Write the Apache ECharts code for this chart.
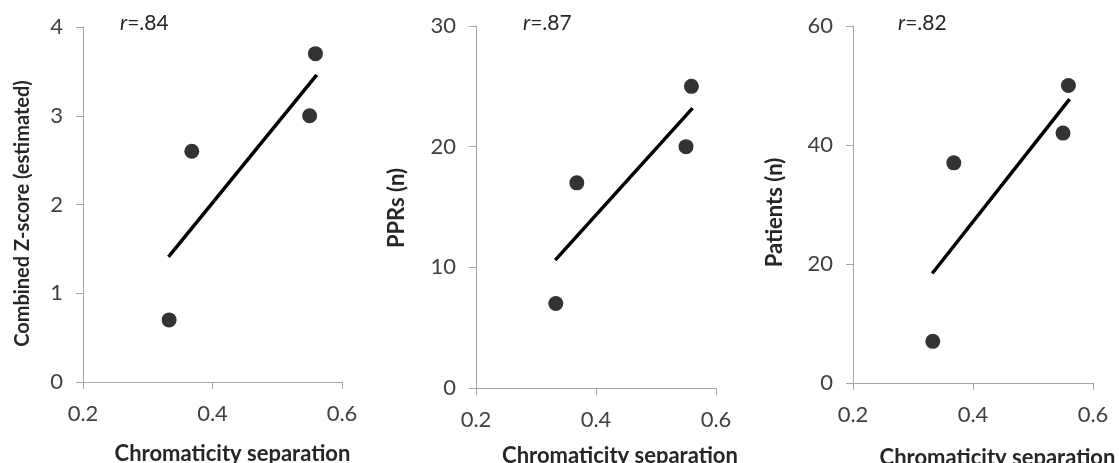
<!DOCTYPE html>
<html><head><meta charset="utf-8">
<script src="https://cdn.jsdelivr.net/npm/echarts@6/dist/echarts.min.js"></script>
<style>html,body{margin:0;padding:0;background:#fff}#c{width:1119px;height:463px}</style>
</head><body><div id="c"></div>
<script>
// Data
const chromaticity = [0.333, 0.368, 0.550, 0.559];
const zScore = [0.7, 2.6, 3.0, 3.7];
const pprs = [7, 17, 20, 25];
const patients = [7, 37, 42, 50];
// Trend lines (endpoints)
const trendX = [0.332, 0.561];
const zTrend = [1.41, 3.46];
const pprTrend = [10.6, 23.2];
const patTrend = [18.4, 47.7];
const rLabels = ['.84', '.87', '.82'];
const yNames = ['Combined Z-score (estimated)', 'PPRs (n)', 'Patients (n)'];
const xName = 'Chromaticity separation';
const yMax = [4, 30, 60];
const yInterval = [1, 10, 20];

const FONT = 'Lato';
const grids = [
  {left: 83, top: 27, width: 259, height: 355, outerBoundsMode: 'none', containLabel: false},
  {left: 476, top: 26, width: 240, height: 362, outerBoundsMode: 'none', containLabel: false},
  {left: 853, top: 26, width: 240, height: 357, outerBoundsMode: 'none', containLabel: false}
];
const yNameGap = [50, 68, 67];
const yNameSize = [20, 22, 22];
const yNamePad = [[0, 18, 0, 0], [0, 2, 0, 0], [0, 16, 0, 0]];
const xNamePad = [40, 48, 49];
const xNameGap = [61, 57, 64];
const axisCol = '#a6a6a6';
const txtCol = '#404040';

const xAxes = grids.map((g, i) => ({
  gridIndex: i, type: 'value', min: 0.2, max: 0.6, interval: 0.2,
  name: xName, nameLocation: 'middle', nameGap: xNameGap[i],
  nameTextStyle: {fontFamily: FONT, fontWeight: 'bold', fontSize: 22, color: '#262626', padding: [0, 0, 0, xNamePad[i]]},
  axisLine: {show: true, lineStyle: {color: axisCol, width: 1}},
  axisTick: {show: true, inside: false, length: 7, lineStyle: {color: axisCol}},
  axisLabel: {fontFamily: FONT, fontSize: 22, color: txtCol, margin: 21, formatter: v => v.toFixed(1)},
  splitLine: {show: false}
}));
const yAxes = grids.map((g, i) => ({
  gridIndex: i, type: 'value', min: 0, max: yMax[i], interval: yInterval[i],
  name: yNames[i], nameLocation: 'middle', nameGap: yNameGap[i],
  nameTextStyle: {fontFamily: FONT, fontWeight: 'bold', fontSize: yNameSize[i], color: '#262626', padding: yNamePad[i]},
  axisLine: {show: true, lineStyle: {color: axisCol, width: 1}},
  axisTick: {show: true, inside: false, length: 7, lineStyle: {color: axisCol}},
  axisLabel: {fontFamily: FONT, fontSize: 22, color: txtCol, margin: 20},
  splitLine: {show: false}
}));
const ys = [zScore, pprs, patients];
const trends = [zTrend, pprTrend, patTrend];
const series = [];
ys.forEach((arr, i) => {
  series.push({
    type: 'line', xAxisIndex: i, yAxisIndex: i, symbol: 'none',
    data: trendX.map((x, k) => [x, trends[i][k]]),
    lineStyle: {color: '#000', width: 3.5}, z: 2, silent: true
  });
  series.push({
    type: 'scatter', xAxisIndex: i, yAxisIndex: i, symbolSize: 15,
    data: chromaticity.map((x, k) => [x, arr[k]]),
    itemStyle: {color: '#000'}, z: 3
  });
});
const rPos = [[120, 25], [523, 25], [898, 25]];
const graphic = rLabels.map((r, i) => ({
  type: 'text', left: rPos[i][0], top: rPos[i][1] - 12,
  style: {
    text: '{i|r}{n|=' + r + '}',
    rich: {
      i: {fontFamily: FONT, fontStyle: 'italic', fontSize: 21, fill: '#262626'},
      n: {fontFamily: FONT, fontSize: 21, fill: '#262626'}
    }
  }
}));
const chart = echarts.init(document.getElementById('c'), null, {renderer: 'canvas'});
chart.setOption({
  backgroundColor: '#fff', animation: false,
  grid: grids, xAxis: xAxes, yAxis: yAxes, series: series, graphic: graphic
});
</script></body></html>
